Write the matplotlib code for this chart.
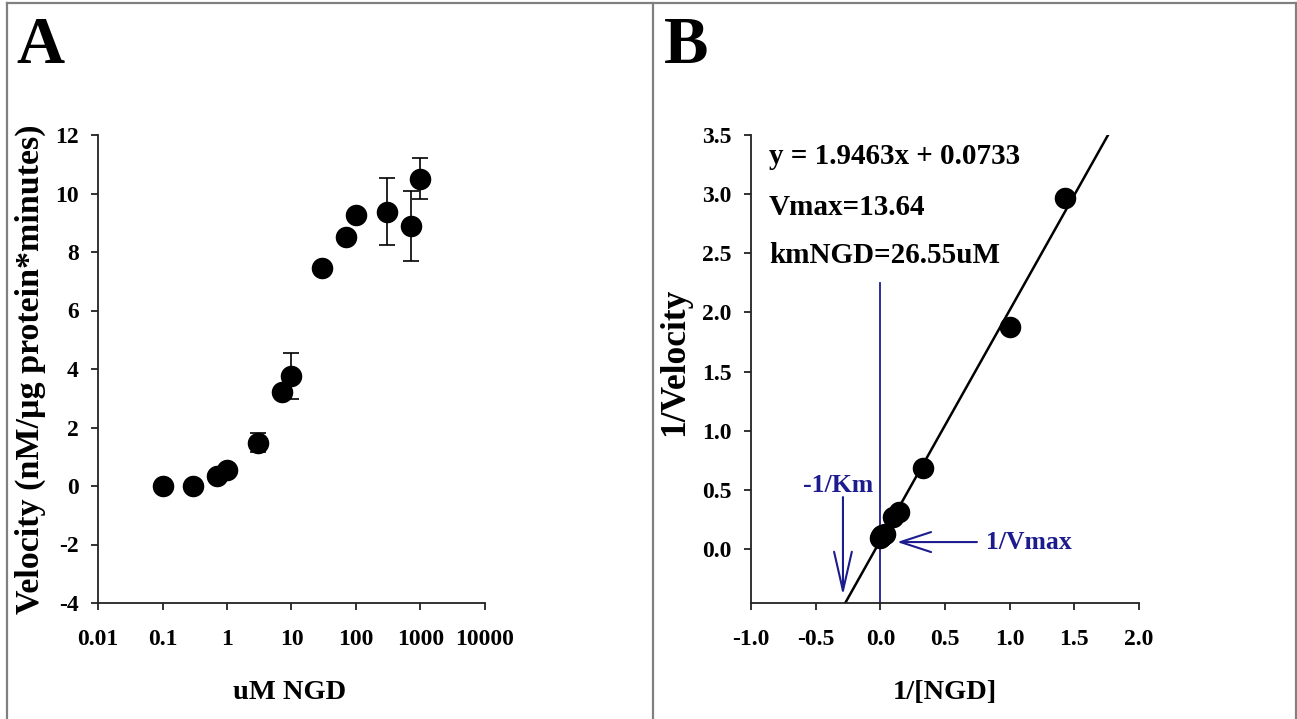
import matplotlib
matplotlib.use("Agg")
import matplotlib.pyplot as plt
from matplotlib.lines import Line2D

# ---------------- data ----------------
ngd_conc = [0.1, 0.3, 0.7, 1.0, 3.0, 7.0, 10.0, 30.0, 70.0, 100.0, 300.0, 700.0, 1000.0]
velocity = [0.0, 0.0, 0.35, 0.55, 1.48, 3.22, 3.75, 7.45, 8.5, 9.28, 9.38, 8.9, 10.5]
vel_err = [0.05, 0.05, 0.1, 0.1, 0.32, 0.12, 0.78, 0.12, 0.12, 0.12, 1.15, 1.2, 0.7]

inv_ngd = [1.43, 1.0, 0.333, 0.143, 0.1, 0.033, 0.014, 0.01, 0.003, 0.0014, 0.001]
inv_vel = [2.97, 1.88, 0.69, 0.31, 0.27, 0.13, 0.12, 0.11, 0.105, 0.11, 0.095]

fit_slope = 1.9463
fit_intercept = 0.0733
fit_x_range = [-0.27, 1.77]

xticks_a = [0.01, 0.1, 1, 10, 100, 1000, 10000]
xticklabels_a = ["0.01", "0.1", "1", "10", "100", "1000", "10000"]
yticks_a = [-4, -2, 0, 2, 4, 6, 8, 10, 12]
xticks_b = [-1.0, -0.5, 0.0, 0.5, 1.0, 1.5, 2.0]
yticks_b = [0.0, 0.5, 1.0, 1.5, 2.0, 2.5, 3.0, 3.5]

# ---------------- style ----------------
plt.rcParams['font.family'] = ['Liberation Serif', 'DejaVu Serif']
plt.rcParams['font.weight'] = 'bold'
plt.rcParams['axes.unicode_minus'] = False
W, H = 1297, 719
fig = plt.figure(figsize=(W / 100, H / 100), dpi=100)
navy = '#1c1c8e'
spine_c = '#222222'


def px_axes(l, t, r, b):
    return fig.add_axes([l / W, 1 - b / H, (r - l) / W, (b - t) / H])


def style(ax):
    for s in ['top', 'right']:
        ax.spines[s].set_visible(False)
    for s in ['left', 'bottom']:
        ax.spines[s].set_linewidth(1.3)
        ax.spines[s].set_color(spine_c)
    ax.tick_params(direction='out', length=5, width=1.3, color=spine_c, labelsize=17)
    ax.tick_params(axis='x', pad=14)
    ax.tick_params(axis='y', pad=9)
    for lab in ax.get_xticklabels() + ax.get_yticklabels():
        lab.set_fontweight('bold')


# ---------------- panel A ----------------
axA = px_axes(98, 135, 485, 603)
axA.set_xscale('log')
axA.set_xlim(0.01, 10000)
axA.set_ylim(-4, 12)
axA.errorbar(ngd_conc, velocity, yerr=vel_err, fmt='o', color='black', ms=14.5,
             ecolor='black', elinewidth=1.2, capsize=6, capthick=1.2, zorder=3)
axA.set_xticks(xticks_a)
axA.set_xticklabels(xticklabels_a)
axA.minorticks_off()
axA.set_yticks(yticks_a)
style(axA)
axA.set_xlabel('uM NGD', fontsize=20.5, fontweight='bold')
axA.xaxis.set_label_coords(0.496, -0.192)
axA.xaxis.label.set_va('center')
axA.set_ylabel('Velocity (nM/µg protein*minutes)', fontsize=24.5, fontweight='bold')
axA.yaxis.set_label_coords(-0.176, 0.50)
axA.yaxis.label.set_va('center')

# ---------------- panel B ----------------
axB = px_axes(751, 135, 1139, 603)
axB.set_xlim(-1.0, 2.0)
axB.set_ylim(-0.455, 3.5)
fx = fit_x_range
fy = [fit_slope * v + fit_intercept for v in fx]
axB.plot(fx, fy, color='black', lw=1.8, zorder=2)
axB.plot([0, 0], [-0.455, 2.25], color=navy, lw=1.3, zorder=1)
axB.plot(inv_ngd, inv_vel, 'o', color='black', ms=14.5, zorder=3)
axB.set_xticks(xticks_b)
axB.set_xticklabels([f"{v:.1f}" for v in xticks_b])
axB.set_yticks(yticks_b)
axB.set_yticklabels([f"{v:.1f}" for v in yticks_b])
style(axB)
axB.set_xlabel('1/[NGD]', fontsize=20.5, fontweight='bold')
axB.xaxis.set_label_coords(0.5, -0.192)
axB.xaxis.label.set_va('center')
axB.set_ylabel('1/Velocity', fontsize=25.5, fontweight='bold')
axB.yaxis.set_label_coords(-0.196, 0.515)
axB.yaxis.label.set_va('center')

axB.text(-0.86, 3.32, 'y = 1.9463x + 0.0733', fontsize=21, fontweight='bold', va='center', ha='left')
axB.text(-0.86, 2.89, 'Vmax=13.64', fontsize=21, fontweight='bold', va='center', ha='left')
axB.text(-0.86, 2.48, 'kmNGD=26.55uM', fontsize=21, fontweight='bold', va='center', ha='left')

axB.annotate('', xy=(-0.289, -0.39), xytext=(-0.289, 0.44),
             arrowprops=dict(arrowstyle='->,head_length=1.4,head_width=0.32', mutation_scale=20,
                             lw=1.5, color=navy, shrinkA=0, shrinkB=0))
axB.text(-0.33, 0.535, '-1/Km', fontsize=18.5, fontweight='bold', color=navy, ha='center', va='center')
axB.annotate('', xy=(0.13, 0.06), xytext=(0.747, 0.06),
             arrowprops=dict(arrowstyle='->,head_length=1.1,head_width=0.36', mutation_scale=20,
                             lw=1.5, color=navy, shrinkA=0, shrinkB=0))
axB.text(0.82, 0.06, '1/Vmax', fontsize=18.5, fontweight='bold', color=navy, ha='left', va='center')

# ---------------- panel letters & frame ----------------
fig.text(16 / W, 1 - 63 / H, 'A', fontsize=48, fontweight='bold', ha='left', va='baseline')
fig.text(664 / W, 1 - 63 / H, 'B', fontsize=48, fontweight='bold', ha='left', va='baseline')

frame_c = '#808080'
def fline(xs, ys):
    fig.add_artist(Line2D([x / W for x in xs], [1 - y / H for y in ys],
                          color=frame_c, lw=1.6, transform=fig.transFigure))
fline([7, 1296], [3, 3])
fline([7, 7], [3, 719])
fline([653, 653], [3, 719])
fline([1296, 1296], [3, 719])

fig.savefig('out.png', dpi=100)
